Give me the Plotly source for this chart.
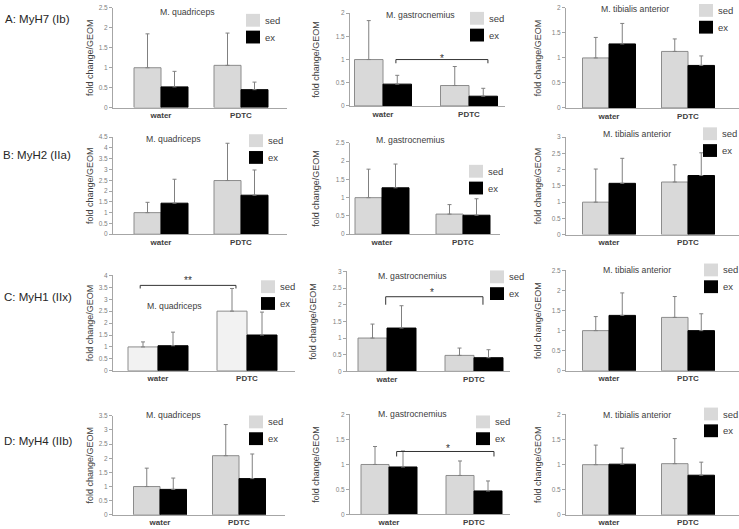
import plotly.graph_objects as go

W, H = 739, 529
FONT = "Liberation Sans, Arial, sans-serif"

# ---------------- data ----------------
groups = ["water", "PDTC"]
row_labels = ["A: MyH7 (Ib)", "B: MyH2 (IIa)", "C: MyH1 (IIx)", "D: MyH4 (IIb)"]
muscles = ["M. quadriceps", "M. gastrocnemius", "M. tibialis anterior"]
series = ["sed", "ex"]

# mean fold change [water, PDTC] per muscle (quadriceps, gastrocnemius, tibialis anterior)
A_sed    = [[1.00, 1.06], [1.00, 0.44], [1.00, 1.13]]
A_sed_sd = [[0.85, 0.81], [0.84, 0.41], [0.41, 0.25]]
A_ex     = [[0.52, 0.45], [0.47, 0.21], [1.28, 0.85]]
A_ex_sd  = [[0.39, 0.19], [0.19, 0.17], [0.41, 0.19]]

B_sed    = [[1.00, 2.49], [1.00, 0.55], [1.00, 1.62]]
B_sed_sd = [[0.48, 1.73], [0.78, 0.26], [1.02, 0.53]]
B_ex     = [[1.44, 1.81], [1.27, 0.52], [1.58, 1.82]]
B_ex_sd  = [[1.11, 1.17], [0.65, 0.45], [0.77, 0.70]]

C_sed    = [[1.00, 2.50], [1.00, 0.48], [1.00, 1.33]]
C_sed_sd = [[0.21, 0.95], [0.42, 0.22], [0.35, 0.52]]
C_ex     = [[1.05, 1.50], [1.30, 0.41], [1.38, 1.00]]
C_ex_sd  = [[0.57, 0.96], [0.67, 0.24], [0.56, 0.42]]

D_sed    = [[1.00, 2.09], [1.00, 0.78], [1.00, 1.02]]
D_sed_sd = [[0.65, 1.10], [0.36, 0.29], [0.39, 0.50]]
D_ex     = [[0.90, 1.28], [0.95, 0.47], [1.01, 0.79]]
D_ex_sd  = [[0.40, 0.87], [0.32, 0.20], [0.32, 0.26]]

y_max = [[2.5, 2, 2], [4.5, 2.5, 3], [4, 3, 2.5], [3.5, 2, 2]]

SED = [A_sed, B_sed, C_sed, D_sed]
SED_SD = [A_sed_sd, B_sed_sd, C_sed_sd, D_sed_sd]
EX = [A_ex, B_ex, C_ex, D_ex]
EX_SD = [A_ex_sd, B_ex_sd, C_ex_sd, D_ex_sd]

# significance: (row, col, label)
sig_marks = [(0, 1, "*"), (2, 0, "**"), (2, 1, "*"), (3, 1, "*")]

# ---------------- layout geometry (pixels) ----------------
# axis start, axis end, water centre, PDTC centre, bar width
X_GEOM = [
    [(113, 287, 161, 241, 27), (350, 505, 383, 469, 28.5), (566, 739, 609, 688, 26.5)],
    [(113, 287, 161, 241, 27), (350, 500, 382, 463, 27), (566, 739, 609, 688, 26.5)],
    [(113, 295, 158, 247, 30), (347, 510, 387, 474, 29), (566, 739, 609, 688, 26.5)],
    [(113, 285, 160, 239, 26.5), (350, 510, 389, 474, 28), (566, 739, 609, 688, 26.5)],
]
# y of top tick, y of zero
Y_GEOM = [
    [(4, 105), (9.3, 103.3), (4, 105.3)],
    [(135, 233.3), (140.7, 233.3), (135, 233.7)],
    [(275, 371.7), (271, 372.3), (270, 371.7)],
    [(417.3, 517.7), (416, 517.3), (416, 517.7)],
]
TITLE_POS = [
    [(187, 8), (420, 11), (635, 5)],
    [(173, 137), (410, 138), (637, 132)],
    [(174, 306), (412, 276), (637, 270)],
    [(173, 417), (412, 416), (637, 417)],
]
# top-left of the "sed" key swatch; the "ex" swatch sits 17 px lower
LEGEND_POS = [
    [(246, 10), (470, 8), (699, 0)],
    [(249, 132), (469, 163), (703, 125)],
    [(261, 280), (490, 270), (704, 263)],
    [(249, 417), (476, 417), (704, 409)],
]
KEY_W, KEY_H, KEY_STEP = 14, 13, 17
ROW_LABEL_POS = [(3, 15), (1, 153), (2, 297), (2, 443)]
YTITLE_STANDOFF = [3, 14, 8]
# bracket: (x left offset from water, x right offset from PDTC, bar y, drop y, star x, star y)
BRACKETS = {
    (0, 1): (0.15, 0.22, 1.0, 0.92, 0.686, 1.09),
    (2, 0): (-0.2, -0.124, 3.58, 3.45, 0.337, 3.91),
    (2, 1): (-0.015, 0.103, 2.24, 2.0, 0.517, 2.46),
    (3, 1): (0.09, 0.235, 1.26, 1.16, 0.694, 1.37),
}

SED_COLOR = "#d9d9d9"
SED_LIGHT = "#f2f2f2"
EX_COLOR = "#000000"
AXIS_COLOR = "#a6a6a6"
ERR_COLOR = "#808080"
TEXT_COLOR = "#404040"
SIG_COLOR = "#333333"

fig = go.Figure()
layout = dict(
    width=W, height=H,
    margin=dict(l=0, r=0, t=0, b=0),
    paper_bgcolor="white", plot_bgcolor="white",
    font=dict(family=FONT, color=TEXT_COLOR),
    barmode="overlay", showlegend=False,
    annotations=[], shapes=[],
)

for r in range(4):
    for c in range(3):
        i = r * 3 + c
        sfx = "" if i == 0 else str(i + 1)
        xa, ya = "x" + sfx, "y" + sfx
        xs, xe, cw, cp, bpx = X_GEOM[r][c]
        unit = cp - cw
        bw = bpx / unit
        ytop, ybot = Y_GEOM[r][c]

        sed_col = SED_LIGHT if (r == 2 and c == 0) else SED_COLOR
        fig.add_trace(go.Bar(
            x=groups, y=SED[r][c], name=series[0],
            width=bw, offset=-bw,
            marker=dict(color=sed_col, line=dict(color="#8c8c8c", width=1)),
            error_y=dict(type="data", symmetric=False, array=SED_SD[r][c],
                         arrayminus=[0, 0], color=ERR_COLOR, thickness=1, width=2),
            xaxis=xa, yaxis=ya,
        ))
        fig.add_trace(go.Bar(
            x=groups, y=EX[r][c], name=series[1],
            width=bw, offset=0,
            marker=dict(color=EX_COLOR, line=dict(color=EX_COLOR, width=1)),
            error_y=dict(type="data", symmetric=False, array=EX_SD[r][c],
                         arrayminus=[0, 0], color=ERR_COLOR, thickness=1, width=2),
            xaxis=xa, yaxis=ya,
        ))

        layout["xaxis" + sfx] = dict(
            domain=[xs / W, xe / W], anchor=ya, type="category",
            range=[(xs - cw) / unit, (xe - cw) / unit],
            showline=True, linecolor=AXIS_COLOR, linewidth=1,
            showgrid=False, zeroline=False, ticks="",
            tickfont=dict(size=8, color=TEXT_COLOR, weight="bold"),
            fixedrange=True,
        )
        layout["yaxis" + sfx] = dict(
            domain=[1 - ybot / H, 1 - ytop / H], anchor=xa,
            range=[0, y_max[r][c]], dtick=0.5, tick0=0,
            showline=True, linecolor=AXIS_COLOR, linewidth=1,
            ticks="outside", ticklen=3, tickcolor=AXIS_COLOR,
            showgrid=False, zeroline=False,
            tickfont=dict(size=6.5, color="#7f7f7f"),
            title=dict(text="fold change/GEOM", font=dict(size=9, color=TEXT_COLOR),
                       standoff=YTITLE_STANDOFF[c]),
            fixedrange=True,
        )

        # key (sed / ex)
        lx, ly = LEGEND_POS[r][c]
        for k, (name, col) in enumerate([(series[0], SED_COLOR), (series[1], EX_COLOR)]):
            top = ly + k * KEY_STEP
            layout["shapes"].append(dict(
                type="rect", xref="paper", yref="paper",
                x0=lx / W, x1=(lx + KEY_W) / W,
                y0=1 - (top + KEY_H) / H, y1=1 - top / H,
                fillcolor=col, line=dict(width=0),
            ))
            layout["annotations"].append(dict(
                text=name, x=(lx + KEY_W + 3) / W, y=1 - (top + KEY_H / 2) / H,
                xref="paper", yref="paper", showarrow=False,
                xanchor="left", yanchor="middle",
                font=dict(size=9.5, color=TEXT_COLOR),
            ))

        tx, ty = TITLE_POS[r][c]
        layout["annotations"].append(dict(
            text=muscles[c], x=tx / W, y=1 - ty / H, xref="paper", yref="paper",
            showarrow=False, xanchor="center", yanchor="middle",
            font=dict(size=8.7, color=TEXT_COLOR),
        ))

for (r, c, label) in sig_marks:
    i = r * 3 + c
    sfx = "" if i == 0 else str(i + 1)
    xl, xr, yb, yd, sx, sy = BRACKETS[(r, c)]
    x0, x1 = 0 + xl, 1 + xr
    for (a, b, p, q) in [(x0, x0, yd, yb), (x0, x1, yb, yb), (x1, x1, yb, yd)]:
        layout["shapes"].append(dict(type="line", xref="x" + sfx, yref="y" + sfx,
                                     x0=a, x1=b, y0=p, y1=q,
                                     line=dict(color=SIG_COLOR, width=1)))
    layout["annotations"].append(dict(
        text=label, x=sx, y=sy, xref="x" + sfx, yref="y" + sfx, showarrow=False,
        xanchor="center", yanchor="middle", yshift=-3,
        font=dict(size=10, color=SIG_COLOR),
    ))

for k, lab in enumerate(row_labels):
    px, py = ROW_LABEL_POS[k]
    layout["annotations"].append(dict(
        text=lab, x=px / W, y=1 - py / H, xref="paper", yref="paper",
        showarrow=False, xanchor="left", yanchor="middle",
        font=dict(size=11.5, color="#262626"),
    ))

fig.update_layout(**layout)
fig.write_html(
    "out.html",
    config={"displayModeBar": False},
    post_script="document.body.style.margin='0';document.body.style.overflow='hidden';",
)
